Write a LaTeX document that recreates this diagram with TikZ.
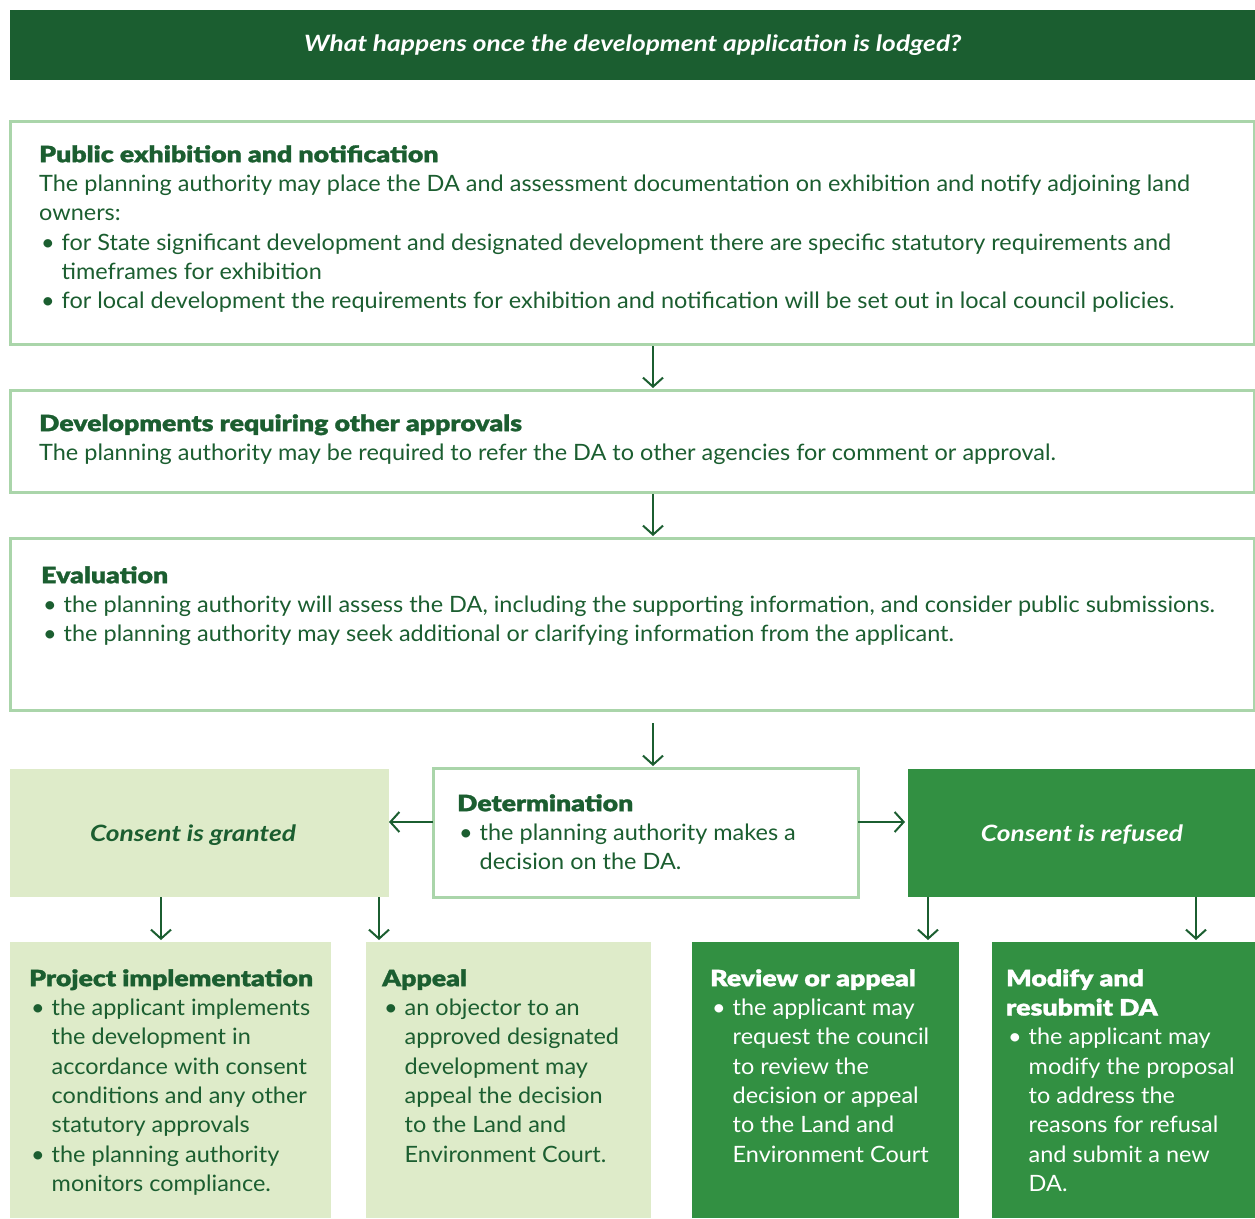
\documentclass[tikz,border=0pt]{standalone}
\usepackage{fontspec}
\setmainfont{Lato}[UprightFeatures={FakeStretch=1.043}, BoldFont={Lato Black}, BoldFeatures={FakeStretch=1.185, FakeBold=1.2}, BoldItalicFont={Lato Bold Italic}, BoldItalicFeatures={FakeStretch=1.17}]
\usetikzlibrary{arrows.meta}
\definecolor{dkgreen}{RGB}{27,94,48}
\definecolor{midgreen}{RGB}{50,144,66}
\definecolor{ltfill}{RGB}{222,235,201}
\definecolor{ltborder}{RGB}{170,213,170}
\newcommand{\bodyfont}{\fontsize{22.5}{29.3}\selectfont}
\newcommand{\fs}{\rule{0pt}{20pt}}
\newcommand{\bul}{\makebox[22.5pt][l]{\hspace{2pt}•}}
\newcommand{\ind}{\hspace*{22.5pt}}
\tikzset{
  lbox/.style={draw=ltborder, line width=3pt, fill=white, inner sep=0pt, outer sep=0pt, anchor=north west},
  fbox/.style={fill=ltfill, inner sep=0pt, outer sep=0pt, anchor=north west},
  gbox/.style={fill=midgreen, inner sep=0pt, outer sep=0pt, anchor=north west},
  txt/.style={anchor=north west, inner sep=0pt, align=left, text=dkgreen, font=\bodyfont},
  wtxt/.style={txt, text=white},
  arr/.style={draw=dkgreen, line width=2pt, -{Straight Barb[length=9pt,width=20pt]}}
}
\begin{document}
\begin{tikzpicture}[x=1pt,y=-1pt]
\useasboundingbox (0,0) rectangle (1255,1218);
% header
\node[fill=dkgreen, minimum width=1245pt, minimum height=70pt, anchor=north west, inner sep=0pt] (hd) at (10,10) {};
\node[text=white, font=\bodyfont\bfseries\itshape] (hdt) at (hd.center) {What happens once the development application is lodged?};
% main boxes
\node[lbox, minimum width=1244pt, minimum height=223pt] (b1) at (10,121) {};
\node[lbox, minimum width=1244pt, minimum height=102pt] (b2) at (10,390) {};
\node[lbox, minimum width=1244pt, minimum height=172pt] (b3) at (10,538) {};
\node[lbox, minimum width=425pt, minimum height=129pt] (det) at (433,768) {};
\node[fbox, minimum width=379pt, minimum height=128pt] (cg) at (10,769) {};
\node[gbox, minimum width=347pt, minimum height=128pt] (cr) at (908,769) {};
\node[fbox, minimum width=321pt, minimum height=276pt] (pa) at (10,942) {};
\node[fbox, minimum width=285pt, minimum height=276pt] (pb) at (366,942) {};
\node[gbox, minimum width=267pt, minimum height=276pt] (pc) at (692,942) {};
\node[gbox, minimum width=263pt, minimum height=276pt] (pd) at (992,942) {};
% texts
\node[txt] (t1) at (39,142) {\fs\textbf{Public exhibition and notification}\\
The planning authority may place the DA and assessment documentation on exhibition and notify adjoining land\\
owners:\\
\bul for State significant development and designated development there are specific statutory requirements and\\
\ind timeframes for exhibition\\
\bul for local development the requirements for exhibition and notification will be set out in local council policies.};
\node[txt] (t2) at (39,411) {\fs\textbf{Developments requiring other approvals}\\
The planning authority may be required to refer the DA to other agencies for comment or approval.};
\node[txt] (t3) at (41,563) {\fs\textbf{Evaluation}\\
\bul the planning authority will assess the DA, including the supporting information, and consider public submissions.\\
\bul the planning authority may seek additional or clarifying information from the applicant.};
\node[txt] (tdet) at (457,791) {\fs\textbf{Determination}\\
\bul the planning authority makes a\\
\ind decision on the DA.};
\node[text=dkgreen, font=\bodyfont\bfseries\itshape] (tcg) at (193,835) {Consent is granted};
\node[text=white, font=\bodyfont\bfseries\itshape] (tcr) at (1082,835) {Consent is refused};
\node[txt] (ta) at (29,966) {\fs\textbf{Project implementation}\\
\bul the applicant implements\\
\ind the development in\\
\ind accordance with consent\\
\ind conditions and any other\\
\ind statutory approvals\\
\bul the planning authority\\
\ind monitors compliance.};
\node[txt] (tb) at (382,966) {\fs\textbf{Appeal}\\
\bul an objector to an\\
\ind approved designated\\
\ind development may\\
\ind appeal the decision\\
\ind to the Land and\\
\ind Environment Court.};
\node[wtxt] (tc) at (710,966) {\fs\textbf{Review or appeal}\\
\bul the applicant may\\
\ind request the council\\
\ind to review the\\
\ind decision or appeal\\
\ind to the Land and\\
\ind Environment Court};
\node[wtxt] (td) at (1006,966) {\fs\textbf{Modify and}\\
\textbf{resubmit DA}\\
\bul the applicant may\\
\ind modify the proposal\\
\ind to address the\\
\ind reasons for refusal\\
\ind and submit a new\\
\ind DA.};
% connectors
\coordinate (xm) at (653,0);
\coordinate (ya) at (0,822);
\coordinate (x1) at (161,0);
\coordinate (x2) at (379,0);
\coordinate (x3) at (928,0);
\coordinate (x4) at (1196,0);
\draw[arr] ([yshift=-2pt]b1.south -| xm) -- ([yshift=2pt]b2.north -| xm);
\draw[arr] ([yshift=-2pt]b2.south -| xm) -- ([yshift=2pt]b3.north -| xm);
\draw[arr] ([yshift=-13pt]b3.south -| xm) -- ([yshift=2pt]det.north -| xm);
\draw[arr] (det.west |- ya) -- (cg.east |- ya);
\draw[arr] (det.east |- ya) -- ([xshift=-3pt]cr.west |- ya);
\draw[arr] (cg.south -| x1) -- ([yshift=2pt]pa.north -| x1);
\draw[arr] (cg.south -| x2) -- ([yshift=2pt]pb.north -| x2);
\draw[arr] (cr.south -| x3) -- ([yshift=2pt]pc.north -| x3);
\draw[arr] (cr.south -| x4) -- ([yshift=2pt]pd.north -| x4);
\end{tikzpicture}
\end{document}
